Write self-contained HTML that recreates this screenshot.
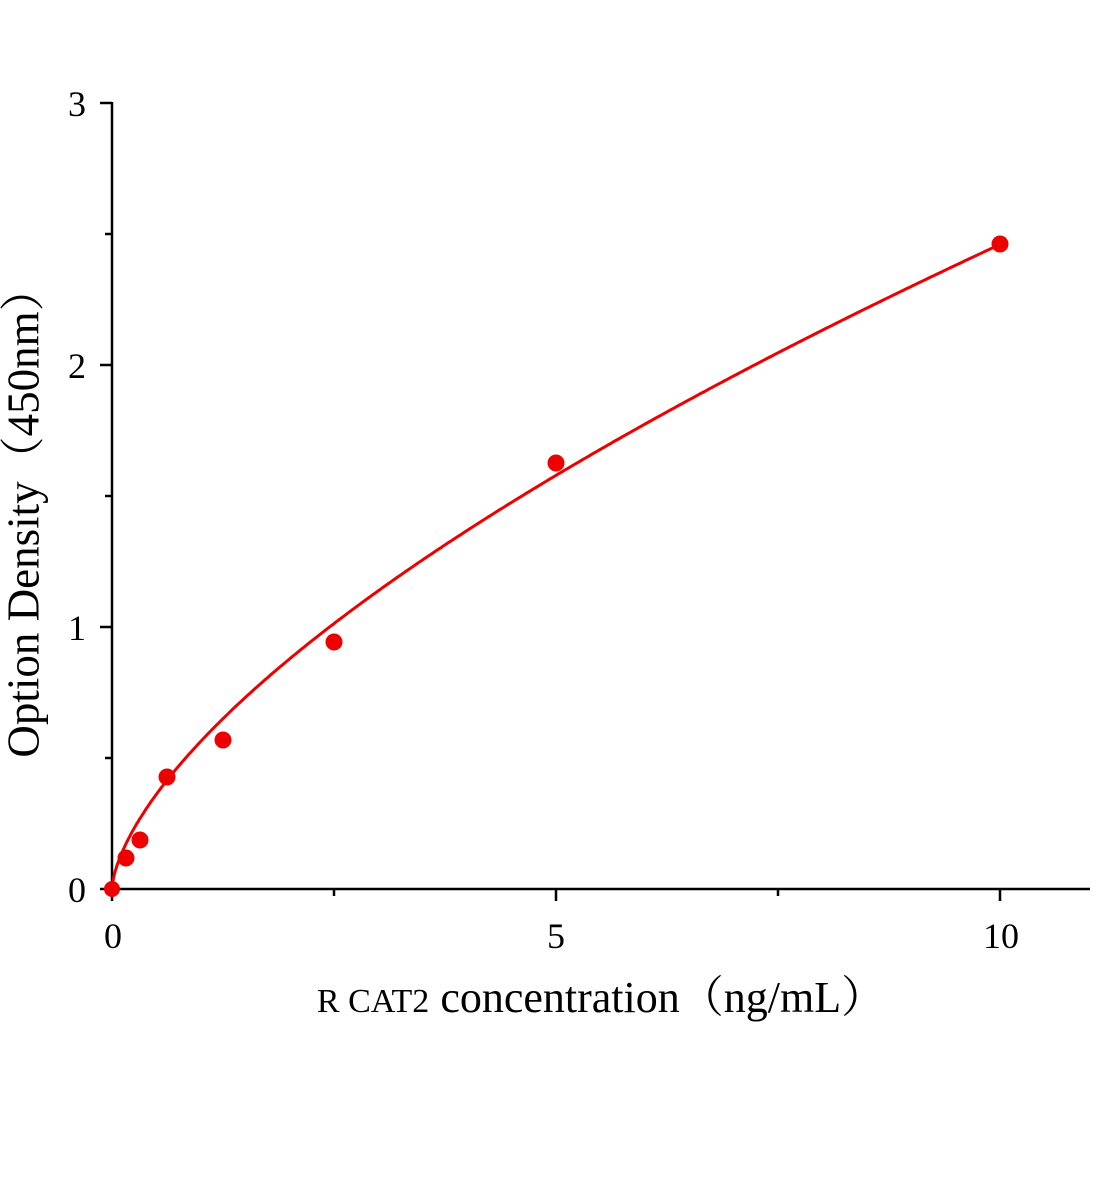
<!DOCTYPE html>
<html><head><meta charset="utf-8"><style>
html,body{margin:0;padding:0;background:#fff;}
svg{display:block;}
text{font-family:"Liberation Serif","Noto Serif CJK SC",serif;fill:#000;}
</style></head><body>
<svg id="s" width="1104" height="1200" viewBox="0 0 1104 1200" xmlns="http://www.w3.org/2000/svg">
<g stroke="#000" stroke-width="2.5" fill="none">
<line x1="112" y1="102" x2="112" y2="890"/>
<line x1="111" y1="889" x2="1090" y2="889"/>
<line x1="100" y1="103" x2="112" y2="103"/>
<line x1="100" y1="365" x2="112" y2="365"/>
<line x1="100" y1="627" x2="112" y2="627"/>
<line x1="100" y1="889" x2="112" y2="889"/>
<line x1="105" y1="234" x2="112" y2="234"/>
<line x1="105" y1="496" x2="112" y2="496"/>
<line x1="105" y1="758" x2="112" y2="758"/>
<line x1="112" y1="889" x2="112" y2="901"/>
<line x1="556" y1="889" x2="556" y2="901"/>
<line x1="1000" y1="889" x2="1000" y2="901"/>
<line x1="334" y1="889" x2="334" y2="896"/>
<line x1="778" y1="889" x2="778" y2="896"/>
</g>
<g font-size="36" text-anchor="end">
<text x="86" y="116">3</text>
<text x="86" y="378">2</text>
<text x="86" y="640">1</text>
<text x="86" y="902">0</text>
</g>
<g font-size="36" text-anchor="middle">
<text x="113" y="948">0</text>
<text x="556" y="948">5</text>
<text x="1001" y="948">10</text>
</g>
<text x="601" y="1012" font-size="44" text-anchor="middle"><tspan font-size="34">R CAT2</tspan> concentration（ng/mL）</text>
<text transform="translate(28,512) rotate(-90)" font-size="45" text-anchor="middle" dominant-baseline="middle">Option Density（450nm）</text>
<polyline id="c" fill="none" stroke="#ee0000" stroke-width="3"/>
<g fill="#ee0000">
<circle cx="112" cy="889" r="8"/>
<circle cx="126" cy="858" r="8.5"/>
<circle cx="140" cy="840" r="8.5"/>
<circle cx="167" cy="777" r="8.5"/>
<circle cx="223" cy="740" r="8.5"/>
<circle cx="334" cy="642" r="8.5"/>
<circle cx="556" cy="463" r="8.5"/>
<circle cx="1000" cy="244" r="8.5"/>
</g>
</svg>
<script>
var p=[];for(var i=0;i<=400;i++){var x=10*Math.pow(i/400,1.6);var y=0.5636*Math.pow(x,0.64);p.push((112+x*88.8).toFixed(1)+","+(889-y*262).toFixed(1));}
document.getElementById("c").setAttribute("points",p.join(" "));
</script>
</body></html>
